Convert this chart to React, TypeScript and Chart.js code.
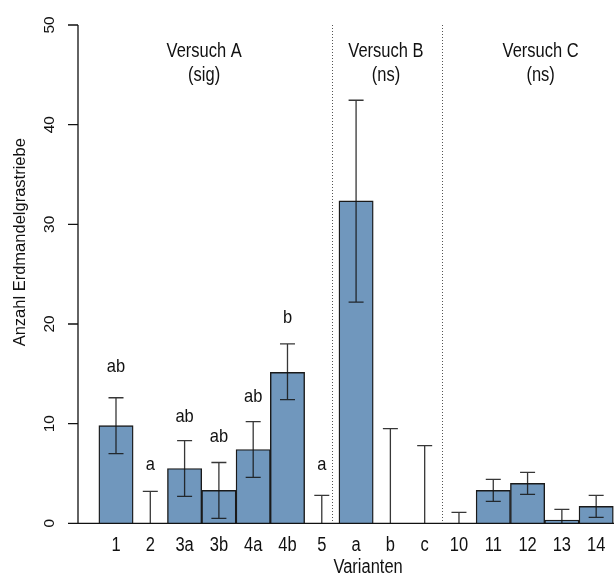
import React, { useEffect, useRef } from "react";
import { Chart, registerables } from "chart.js";

Chart.register(...registerables);

const categories = ["1", "2", "3a", "3b", "4a", "4b", "5", "a", "b", "c", "10", "11", "12", "13", "14"];
const means = [9.8, 0, 5.5, 3.3, 7.4, 15.15, 0, 32.35, 0, 0, 0, 3.3, 4.0, 0.33, 1.7];
const errUpper = [12.6, 3.2, 8.3, 6.1, 10.2, 18.0, 2.8, 42.45, 9.5, 7.8, 1.1, 4.4, 5.1, 1.4, 2.8];
const errLower = [7.0, 0, 2.7, 0.5, 4.6, 12.4, 0, 22.2, 0, 0, 0, 2.2, 2.9, 0, 0.6];
const letters = ["ab", "a", "ab", "ab", "ab", "b", "a"];
const letterY = [15.2, 5.35, 10.15, 8.15, 12.15, 20.1, 5.35];
const groupNames = ["Versuch A", "Versuch B", "Versuch C"];
const groupTests = ["(sig)", "(ns)", "(ns)"];
const groupLabelX = [2.57, 7.87, 12.38];
const separatorsX = [6.3, 9.5];
const yTicks = [0, 10, 20, 30, 40, 50];

const FONT = '"Liberation Sans", Arial, sans-serif';

export default function App() {
  const ref = useRef<HTMLCanvasElement | null>(null);

  useEffect(() => {
    if (!ref.current) return;

    const drawH = (ctx: CanvasRenderingContext2D, text: string, x: number, y: number, size: number, sy: number) => {
      ctx.save();
      ctx.translate(x, y);
      ctx.scale(1, sy);
      ctx.font = `${size}px ${FONT}`;
      ctx.textAlign = "center";
      ctx.textBaseline = "alphabetic";
      ctx.fillStyle = "#111";
      ctx.fillText(text, 0, 0);
      ctx.restore();
    };
    const drawV = (ctx: CanvasRenderingContext2D, text: string, x: number, y: number, size: number) => {
      ctx.save();
      ctx.translate(x, y);
      ctx.rotate(-Math.PI / 2);
      ctx.font = `${size}px ${FONT}`;
      ctx.textAlign = "center";
      ctx.textBaseline = "alphabetic";
      ctx.fillStyle = "#111";
      ctx.fillText(text, 0, 0);
      ctx.restore();
    };

    const overlay = {
      id: "overlay",
      afterDatasetsDraw(chart: any) {
        const ctx: CanvasRenderingContext2D = chart.ctx;
        const xs = chart.scales.x;
        const ys = chart.scales.y;
        const area = chart.chartArea;
        const y0 = ys.getPixelForValue(0);

        // separators
        ctx.save();
        ctx.strokeStyle = "#555";
        ctx.lineWidth = 1;
        ctx.setLineDash([1, 2]);
        separatorsX.forEach((sx) => {
          const px = Math.round(xs.getPixelForValue(sx)) + 0.5;
          ctx.beginPath();
          ctx.moveTo(px, ys.getPixelForValue(50));
          ctx.lineTo(px, y0);
          ctx.stroke();
        });
        ctx.restore();

        // error bars
        ctx.save();
        ctx.strokeStyle = "rgba(20,20,20,0.85)";
        ctx.lineWidth = 1.3;
        categories.forEach((c, i) => {
          const px = xs.getPixelForValue(i);
          const top = ys.getPixelForValue(errUpper[i]);
          const lo = errLower[i];
          const bot = ys.getPixelForValue(Math.max(lo, 0));
          ctx.beginPath();
          ctx.moveTo(px, top);
          ctx.lineTo(px, bot);
          ctx.moveTo(px - 7.5, top);
          ctx.lineTo(px + 7.5, top);
          if (lo > 0) {
            ctx.moveTo(px - 7.5, bot);
            ctx.lineTo(px + 7.5, bot);
          }
          ctx.stroke();
        });
        ctx.restore();

        // axes
        ctx.save();
        ctx.strokeStyle = "#111";
        ctx.lineWidth = 1.3;
        ctx.beginPath();
        ctx.moveTo(area.left, ys.getPixelForValue(50));
        ctx.lineTo(area.left, y0);
        ctx.moveTo(area.left, y0);
        ctx.lineTo(area.right, y0);
        yTicks.forEach((t) => {
          const py = ys.getPixelForValue(t);
          ctx.moveTo(area.left - 10, py);
          ctx.lineTo(area.left, py);
        });
        ctx.stroke();
        ctx.restore();

        // y tick labels
        yTicks.forEach((t) => drawV(ctx, String(t), area.left - 24.5, ys.getPixelForValue(t), 15.5));
        // y title
        drawV(ctx, "Anzahl Erdmandelgrastriebe", 25, ys.getPixelForValue(28.2), 16.5);

        // x labels
        categories.forEach((c, i) => drawH(ctx, c, xs.getPixelForValue(i), y0 + 28, 16.5, 1.2));
        drawH(ctx, "Varianten", xs.getPixelForValue(7.35), y0 + 50, 16.5, 1.2);

        // letters
        letters.forEach((l, i) => drawH(ctx, l, xs.getPixelForValue(i), ys.getPixelForValue(letterY[i]), 16.5, 1.15));

        // group labels
        groupNames.forEach((g, i) => {
          drawH(ctx, g, xs.getPixelForValue(groupLabelX[i]), 57, 16.5, 1.2);
          drawH(ctx, groupTests[i], xs.getPixelForValue(groupLabelX[i]), 81, 16.5, 1.2);
        });
      },
    };

    const chart = new Chart(ref.current, {
      type: "bar",
      data: {
        datasets: [
          {
            data: categories.map((c, i) => ({ x: i, y: means[i] })),
            backgroundColor: "#7097bd",
            borderColor: "#1a1a1a",
            borderWidth: 1.4,
            barPercentage: 1,
            categoryPercentage: 1,
          },
        ],
      },
      options: {
        animation: false,
        responsive: true,
        maintainAspectRatio: false,
        layout: { padding: { left: 78, top: 25, right: 0, bottom: 52.7 } },
        plugins: { legend: { display: false }, tooltip: { enabled: false } },
        scales: {
          x: { type: "linear", min: -1.108, max: 14.52, offset: false, display: false },
          y: { min: 0, max: 50, display: false },
        },
      },
      plugins: [overlay],
    });
    return () => chart.destroy();
  }, []);

  return (
    <div style={{ position: "fixed", left: 0, top: 0, width: 614, height: 576, background: "#fff" }}>
      <canvas ref={ref} />
    </div>
  );
}
